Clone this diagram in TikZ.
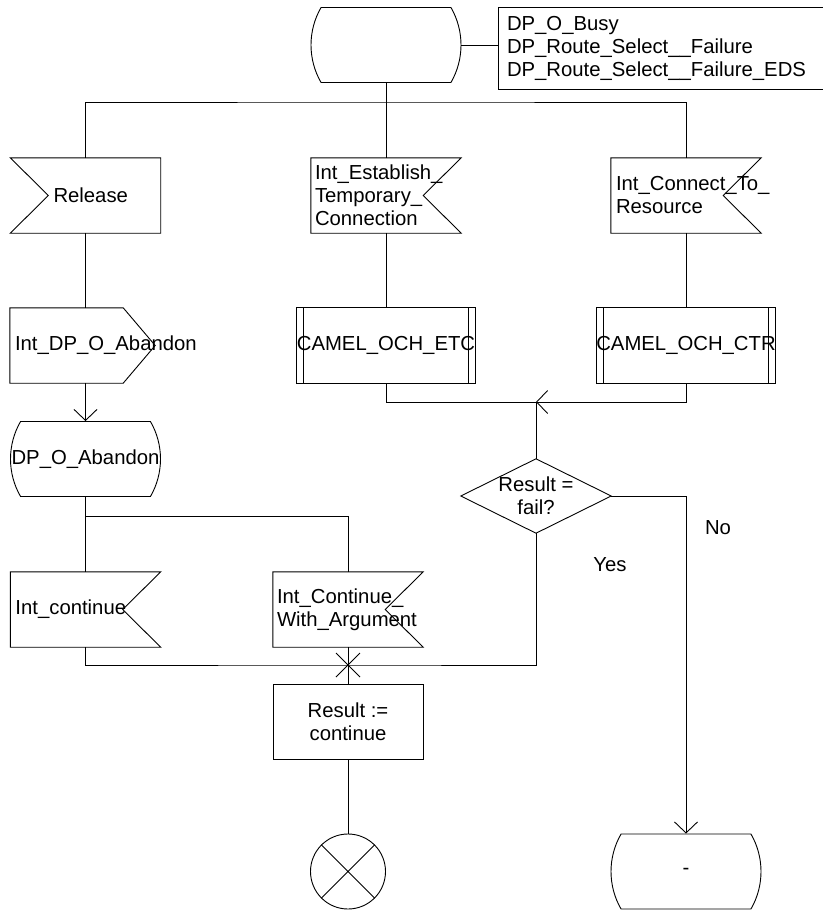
\documentclass[tikz,border=0pt]{standalone}
\usepackage{fontspec}
\setmainfont{Liberation Sans}
\usetikzlibrary{shapes.misc,arrows.meta}
\hyphenpenalty=10000
\exhyphenpenalty=10000
\begin{document}
\begin{tikzpicture}[x=1pt,y=-1pt,
  every node/.style={font=\fontsize{20.3}{23}\selectfont},
  line/.style={line width=0.9pt, draw=black},
  arr/.style={line, -{Straight Barb[length=11pt,width=23pt,line width=0.9pt]}},
  blk/.style={draw=none, minimum width=150pt, minimum height=75pt, inner sep=0pt},
  state/.style={draw, line width=0.9pt, rounded rectangle, rounded rectangle arc length=60,
    minimum width=150pt, minimum height=75pt, inner sep=0pt}
]
\useasboundingbox (0,0) rectangle (822,915);

% nodes
\node[state] (start) at (386,45) {};
\node[blk, align=left, inner xsep=8pt, text width=315pt, minimum height=81pt] (tb) at (664.5,48.5)
  {DP\_O\_Busy\\DP\_Route\_Select\_\_Failure\\DP\_Route\_Select\_\_Failure\_EDS};
\node[blk, align=left, inner xsep=43pt, text width=64pt] (release) at (85.5,195.5) {Release};
\node[blk, align=left, inner xsep=4pt, text width=142pt] (establish) at (386,195.5)
  {Int\_Establish\_\\Temporary\_\\Connection};
\node[blk, align=left, inner xsep=5pt, text width=140pt] (connect) at (686,195.5)
  {Int\_Connect\_To\_\\Resource};
\node[blk, minimum width=145pt, align=left, inner xsep=5pt, text width=135pt] (intdp) at (82.5,345.5)
  {Int\_DP\_O\_Abandon};
\node[blk] (etc) at (386,345.5) {CAMEL\_OCH\_ETC};
\node[blk] (ctr) at (686,345.5) {CAMEL\_OCH\_CTR};
\node[state] (dpab) at (85.5,459) {DP\_O\_Abandon};
\node[blk, minimum height=74pt, align=center] (dec) at (536,496) {Result =\\fail?};
\node[blk, align=left, inner xsep=5pt, text width=140pt] (intcont) at (85.5,609.5) {Int\_continue};
\node[blk, align=left, inner xsep=4pt, text width=142pt] (intcwa) at (348,609.5)
  {Int\_Continue\_\\With\_Argument};
\node[blk, draw, line width=0.9pt, align=center] (result) at (348,721.5) {Result :=\\continue};
\node[circle, draw, line width=0.9pt, minimum size=75pt, inner sep=0pt] (stop) at (348,871.5) {};
\node[state] (dash) at (686,871.5) {-};
\node (no) at (718,528) {No};
\node (yes) at (610,565) {Yes};

% junction coordinates
\coordinate (bus) at (386,102);
\coordinate (jn) at (536,402);
\coordinate (split) at (85.5,516);
\coordinate (jb) at (348,665);

% shape outlines
\draw[line] (release.north west) -- ([xshift=38pt]release.west) -- (release.south west)
  -- (release.south east) -- (release.north east) -- cycle;
\foreach \n in {establish,connect,intcont,intcwa}{
  \draw[line] (\n.north west) -- (\n.north east) -- ([xshift=-38pt]\n.east)
    -- (\n.south east) -- (\n.south west) -- cycle;
}
\draw[line] (intdp.north west) -- ([xshift=-32pt]intdp.north east) -- (intdp.east)
  -- ([xshift=-32pt]intdp.south east) -- (intdp.south west) -- cycle;
\foreach \n in {etc,ctr}{
  \draw[line] (\n.north west) rectangle (\n.south east);
  \draw[line] ([xshift=7pt]\n.north west) -- ([xshift=7pt]\n.south west);
  \draw[line] ([xshift=-7pt]\n.north east) -- ([xshift=-7pt]\n.south east);
}
\draw[line] (dec.north) -- (dec.east) -- (dec.south) -- (dec.west) -- cycle;
\draw[line] (tb.north east) -- (tb.north west) -- (tb.south west) -- (tb.south east);
\draw[line] (stop.north west) -- (stop.south east) (stop.north east) -- (stop.south west);

% connectors
\draw[line] (start.east) -- (start.east -| tb.west);
\draw[line] (start.south) -- (establish.north);
\draw[line] (release.north) |- (bus) -| (connect.north);
\draw[line] (release.south) -- (release.south |- intdp.north);
\draw[arr] (release.south |- intdp.south) -- (dpab.north);
\draw[line] (establish.south) -- (etc.north);
\draw[line] (connect.south) -- (ctr.north);
\draw[line] (etc.south) |- (jn);
\draw[arr] (ctr.south) |- (jn);
\draw[line] (jn) -- (dec.north);
\draw[arr] (dec.east) -| (dash.north);
\draw[line] (dpab.south) -- (intcont.north);
\draw[line] (split) -| (intcwa.north);
\draw[line] (intcont.south) |- (jb) -| (dec.south);
\draw[line] (intcwa.south) -- (result.north);
\draw[line] ([shift={(-12pt,-12pt)}]jb) -- ([shift={(12pt,12pt)}]jb)
  ([shift={(-12pt,12pt)}]jb) -- ([shift={(12pt,-12pt)}]jb);
\draw[line] (result.south) -- (stop.north);
\end{tikzpicture}
\end{document}
